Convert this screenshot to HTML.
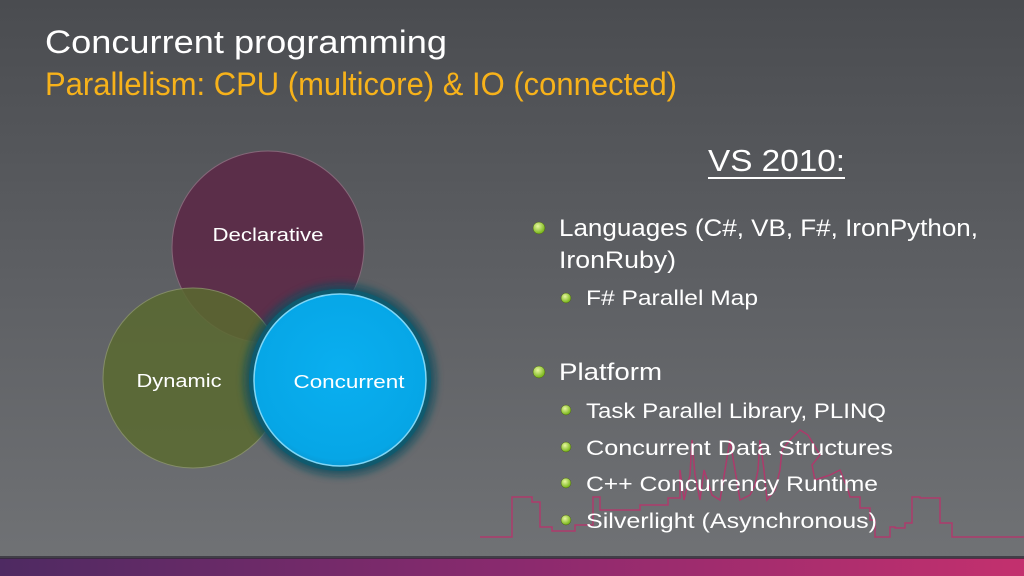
<!DOCTYPE html>
<html><head><style>
html,body{margin:0;padding:0;width:1024px;height:576px;overflow:hidden}
svg{display:block}
text{font-family:"Liberation Sans",sans-serif}
</style></head><body>
<svg width="1024" height="576" viewBox="0 0 1024 576" xmlns="http://www.w3.org/2000/svg">
<defs>
<linearGradient id="bg" x1="0" y1="0" x2="0" y2="1">
<stop offset="0" stop-color="#4a4c50"/><stop offset="0.5" stop-color="#5e6064"/><stop offset="1" stop-color="#717376"/>
</linearGradient>
<linearGradient id="band" x1="0" y1="0" x2="1" y2="0">
<stop offset="0" stop-color="#4e2a62"/><stop offset="0.5" stop-color="#8a2a6e"/><stop offset="1" stop-color="#c3306e"/>
</linearGradient>
<radialGradient id="blue" cx="0.5" cy="0.45" r="0.6">
<stop offset="0" stop-color="#0aaff0"/><stop offset="0.85" stop-color="#06a6e6"/><stop offset="1" stop-color="#0b8ec4"/>
</radialGradient>
<radialGradient id="dot" cx="0.4" cy="0.35" r="0.6">
<stop offset="0" stop-color="#e8f7a0"/><stop offset="1" stop-color="#7cb81e"/>
</radialGradient>
<filter id="glow" x="-30%" y="-30%" width="160%" height="160%"><feGaussianBlur stdDeviation="4"/></filter>
</defs>
<rect width="1024" height="576" fill="url(#bg)"/>
<rect y="558" width="1024" height="18" fill="url(#band)"/>
<rect y="556" width="1024" height="3" fill="#2e2a33" opacity="0.7"/>

<!-- skyline -->
<polyline fill="none" stroke="#b8336b" stroke-width="1.5" opacity="0.85"
points="480,537 512,537 512,497 532,497 532,502 540,502 540,527 552,527 552,531 575,531 575,525 593,525 593,497 600,497 600,510 640,510 640,505 668,505 668,498 680,498 680,470 684,500 690,475 692,440 695,475 700,500 704,470 712,495 720,500 725,470 730,440 735,470 740,500 750,495 755,485 758,470 760,440 764,470 767,500 775,490 780,470 782,450 790,440 800,430 808,435 820,455 812,465 815,480 830,475 840,470 848,490 850,497 860,497 860,508 870,508 870,520 875,520 875,537 890,537 890,527 895,527 895,528 905,528 905,523 912,523 912,497 920,497 920,498 940,498 940,523 952,523 952,537 1024,537"/>

<!-- circles -->
<circle cx="268" cy="247" r="96" fill="#5c2b48" opacity="0.92" stroke="#8a6a7c" stroke-width="1"/>
<circle cx="193" cy="378" r="90" fill="#5a6a30" opacity="0.85" stroke="#8a9468" stroke-width="1"/>
<circle cx="340" cy="380" r="96" fill="#0f4d5e" opacity="0.8" filter="url(#glow)"/>
<circle cx="340" cy="380" r="91" fill="#0f5a6e"/>
<circle cx="340" cy="380" r="86" fill="url(#blue)" stroke="#7fd6f6" stroke-width="1.5"/>
<text x="268" y="241" fill="#fff" font-size="18" text-anchor="middle" textLength="111" lengthAdjust="spacingAndGlyphs">Declarative</text>
<text x="179" y="387" fill="#fff" font-size="18" text-anchor="middle" textLength="85" lengthAdjust="spacingAndGlyphs">Dynamic</text>
<text x="349" y="388" fill="#fff" font-size="18" text-anchor="middle" textLength="111" lengthAdjust="spacingAndGlyphs">Concurrent</text>

<!-- titles -->
<text x="45" y="53" fill="#fff" font-size="32" textLength="402" lengthAdjust="spacingAndGlyphs">Concurrent programming</text>
<text x="45" y="95" fill="#f7b21a" font-size="32" textLength="632" lengthAdjust="spacingAndGlyphs">Parallelism: CPU (multicore) &amp; IO (connected)</text>

<text x="708" y="171" fill="#fff" font-size="31" textLength="137" lengthAdjust="spacingAndGlyphs">VS 2010:</text>
<rect x="708" y="177" width="137" height="2" fill="#fff"/>

<g fill="#fff">
<text x="559" y="236" font-size="24" textLength="419" lengthAdjust="spacingAndGlyphs">Languages (C#, VB, F#, IronPython,</text>
<text x="559" y="268" font-size="24" textLength="117" lengthAdjust="spacingAndGlyphs">IronRuby)</text>
<text x="586" y="305" font-size="21" textLength="172" lengthAdjust="spacingAndGlyphs">F# Parallel Map</text>
<text x="559" y="380" font-size="24" textLength="103" lengthAdjust="spacingAndGlyphs">Platform</text>
<text x="586" y="418" font-size="21" textLength="300" lengthAdjust="spacingAndGlyphs">Task Parallel Library, PLINQ</text>
<text x="586" y="455" font-size="21" textLength="307" lengthAdjust="spacingAndGlyphs">Concurrent Data Structures</text>
<text x="586" y="491" font-size="21" textLength="292" lengthAdjust="spacingAndGlyphs">C++ Concurrency Runtime</text>
<text x="586" y="528" font-size="21" textLength="291" lengthAdjust="spacingAndGlyphs">Silverlight (Asynchronous)</text>
</g>
<g fill="url(#dot)" stroke="#4a5a20" stroke-width="0.5">
<circle cx="539" cy="228" r="6"/>
<circle cx="539" cy="372" r="6"/>
<circle cx="566" cy="298" r="5"/>
<circle cx="566" cy="410" r="5"/>
<circle cx="566" cy="447" r="5"/>
<circle cx="566" cy="483" r="5"/>
<circle cx="566" cy="520" r="5"/>
</g>
</svg>
</body></html>
